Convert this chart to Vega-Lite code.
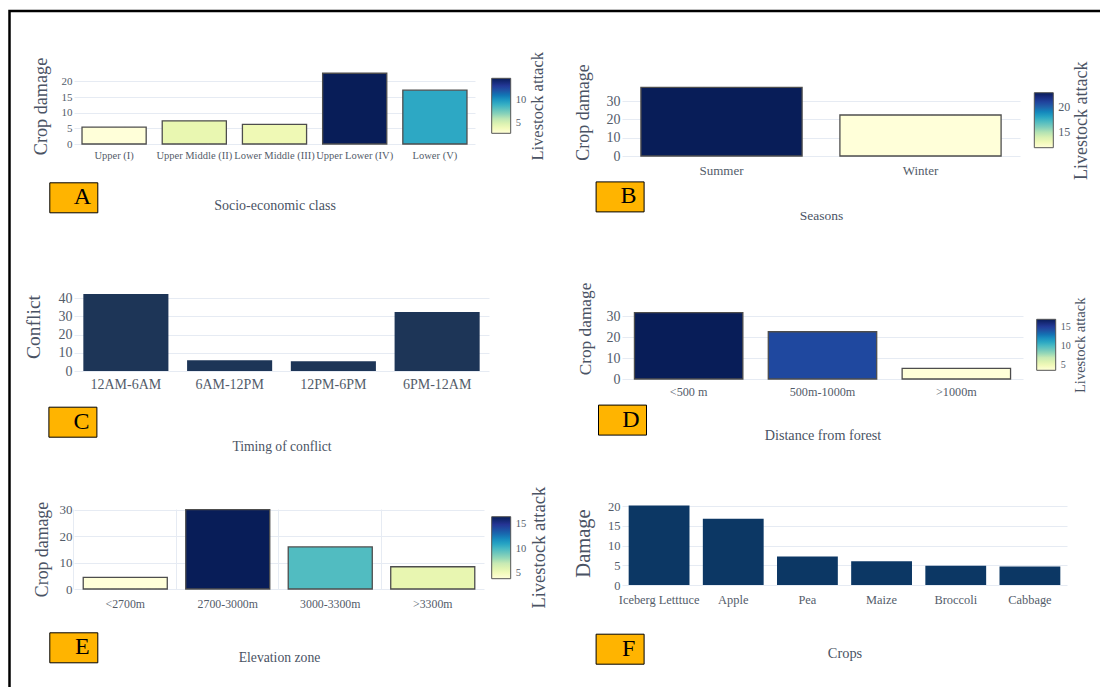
{
  "$schema": "https://vega.github.io/schema/vega-lite/v6.json",
  "background": "white",
  "padding": {"left": 8, "top": 9, "right": 0, "bottom": 0},
  "config": {
    "font": "Liberation Serif",
    "view": {"stroke": null},
    "axis": {"domain": false, "ticks": false, "labelColor": "#535c6a", "titleColor": "#4a5364", "titleFontWeight": "normal", "gridColor": "#e6ebf3", "gridWidth": 1, "labelFont": "Liberation Serif", "titleFont": "Liberation Serif"},
    "axisX": {"grid": false, "labelAngle": 0},
    "axisY": {"grid": true},
    "legend": {"labelFont": "Liberation Serif", "titleFont": "Liberation Serif"}
  },
  "spacing": 548,
  "bounds": "flush",
  "resolve": {"scale": {"color": "independent", "strokeDash": "independent", "opacity": "independent"}, "legend": {"color": "independent", "strokeDash": "independent", "opacity": "independent"}},
  "hconcat": [
    {
      "vconcat": [
        {
          "width": 401, "height": 76,
          "data": {"values": [
            {"cls": "Upper (I)", "crop": 5.4, "livestock": 2.9, "panel": "A"},
            {"cls": "Upper Middle (II)", "crop": 7.4, "livestock": 4.5, "panel": "A"},
            {"cls": "Lower Middle (III)", "crop": 6.3, "livestock": 4.2, "panel": "A"},
            {"cls": "Upper Lower (IV)", "crop": 22.6, "livestock": 14.6, "panel": "A"},
            {"cls": "Lower (V)", "crop": 17.2, "livestock": 9.3, "panel": "A"}
          ]},
          "mark": {"type": "bar", "stroke": "#4d4d4d", "strokeWidth": 1.3},
          "encoding": {
            "x": {"field": "cls", "type": "nominal", "sort": null, "scale": {"paddingInner": 0.2, "paddingOuter": 0.1}, "axis": {"title": "Socio-economic class", "labelFontSize": 10.5, "labelPadding": 6.5, "titleFontSize": 14, "titlePadding": 37}},
            "y": {"field": "crop", "type": "quantitative", "scale": {"domain": [0, 24.28], "nice": false, "zero": true}, "axis": {"title": "Crop damage", "values": [0, 5, 10, 15, 20], "labelFontSize": 11, "labelPadding": 2, "titleFontSize": 18.2, "titlePadding": 11}},
            "color": {"field": "livestock", "type": "quantitative", "scale": {"domain": [2.9, 14.6], "zero": false, "nice": false, "range": ["#ffffd9", "#edf8b1", "#c7e9b4", "#7fcdbb", "#41b6c4", "#1d91c0", "#225ea8", "#253494", "#081d58"]},
              "legend": {"title": "Livestock attack", "orient": "none", "legendX": 417.7, "legendY": 10.3, "direction": "vertical", "gradientLength": 55, "gradientThickness": 19, "gradientStrokeColor": "#555", "gradientStrokeWidth": 1, "values": [5, 10], "labelFontSize": 10.5, "labelColor": "#535c6a", "labelOffset": 5, "titleOrient": "right", "titleAnchor": "middle", "titleFontSize": 16.5, "titleFontWeight": "normal", "titleColor": "#4a5364", "titlePadding": 3, "padding": 0,
                "encode": {"title": {"update": {"angle": {"value": 270}, "baseline": {"value": "top"}}}}}},
            "strokeDash": {"field": "panel", "type": "nominal", "scale": {"range": [[1, 0]]},
              "legend": {"title": null, "orient": "none", "legendX": -24.7, "legendY": 114.3, "symbolType": "M-2,0L2,0", "symbolSize": 441, "symbolOffset": 9, "symbolStrokeWidth": 0, "symbolOpacity": 0, "labelFontSize": 24, "labelColor": "#000", "labelAlign": "center", "labelOffset": -3, "fillColor": "#FFB400", "strokeColor": "#000", "padding": 3,
                "encode": {"legend": {"update": {"strokeWidth": {"value": 2}}}}}},
            "opacity": {"field": "cls", "type": "nominal", "scale": {"range": [1, 1]},
              "legend": {"title": null, "orient": "none", "legendX": -64.5, "legendY": -57, "values": ["Upper (I)"], "symbolType": "square", "symbolSize": 1210000, "symbolStrokeWidth": 0, "symbolOpacity": 0, "symbolFillColor": "transparent", "symbolStrokeColor": "transparent", "labelExpr": "''", "labelFontSize": 1, "strokeColor": "#000", "padding": 0,
                "encode": {"symbols": {"update": {"opacity": {"value": 0}}}, "legend": {"update": {"strokeWidth": {"value": 2.5}}}}}}
          }
        },
        {
          "width": 415, "height": 89,
          "data": {"values": [
            {"time": "12AM-6AM", "conflict": 42.2, "panel": "C"},
            {"time": "6AM-12PM", "conflict": 5.9, "panel": "C"},
            {"time": "12PM-6PM", "conflict": 5.3, "panel": "C"},
            {"time": "6PM-12AM", "conflict": 32.3, "panel": "C"}
          ]},
          "mark": {"type": "bar", "color": "#1d3557"},
          "encoding": {
            "x": {"field": "time", "type": "nominal", "sort": null, "scale": {"paddingInner": 0.18, "paddingOuter": 0.09}, "axis": {"title": "Timing of conflict", "labelFontSize": 14, "labelPadding": 6.5, "titleFontSize": 13.6, "titlePadding": 47.5}},
            "y": {"field": "conflict", "type": "quantitative", "scale": {"domain": [0, 48.8], "nice": false, "zero": true}, "axis": {"title": "Conflict", "values": [0, 10, 20, 30, 40], "labelFontSize": 14, "labelPadding": 2, "titleFontSize": 19.5, "titlePadding": 15}},
            "strokeDash": {"field": "panel", "type": "nominal", "scale": {"range": [[1, 0]]},
              "legend": {"title": null, "orient": "none", "legendX": -25.6, "legendY": 124.7, "symbolType": "M-2,0L2,0", "symbolSize": 441, "symbolOffset": 9, "symbolStrokeWidth": 0, "symbolOpacity": 0, "labelFontSize": 24, "labelColor": "#000", "labelAlign": "center", "labelOffset": -3, "fillColor": "#FFB400", "strokeColor": "#000", "padding": 3,
                "encode": {"legend": {"update": {"strokeWidth": {"value": 2}}}}}}
          }
        },
        {
          "width": 410, "height": 80,
          "data": {"values": [
            {"zone": "<2700m", "crop": 4.4, "livestock": 3.8, "panel": "E"},
            {"zone": "2700-3000m", "crop": 30.0, "livestock": 16.6, "panel": "E"},
            {"zone": "3000-3300m", "crop": 15.9, "livestock": 9.8, "panel": "E"},
            {"zone": ">3300m", "crop": 8.4, "livestock": 5.6, "panel": "E"}
          ]},
          "mark": {"type": "bar", "stroke": "#4d4d4d", "strokeWidth": 1.3},
          "encoding": {
            "x": {"field": "zone", "type": "nominal", "sort": null, "scale": {"paddingInner": 0.18, "paddingOuter": 0.09}, "axis": {"title": "Elevation zone", "grid": true, "bandPosition": -0.11, "labelFontSize": 11.8, "labelPadding": 9, "titleFontSize": 13.7, "titlePadding": 40.7}},
            "y": {"field": "crop", "type": "quantitative", "scale": {"domain": [0, 30.2], "nice": false, "zero": true}, "axis": {"title": "Crop damage", "values": [0, 10, 20, 30], "labelFontSize": 13, "labelPadding": 2, "titleFontSize": 17.8, "titlePadding": 8}},
            "color": {"field": "livestock", "type": "quantitative", "scale": {"domain": [3.8, 16.6], "zero": false, "nice": false, "range": ["#ffffd9", "#edf8b1", "#c7e9b4", "#7fcdbb", "#41b6c4", "#1d91c0", "#225ea8", "#253494", "#081d58"]},
              "legend": {"title": "Livestock attack", "orient": "none", "legendX": 417.7, "legendY": 7.7, "direction": "vertical", "gradientLength": 62, "gradientThickness": 19, "gradientStrokeColor": "#555", "gradientStrokeWidth": 1, "values": [5, 10, 15], "labelFontSize": 10.5, "labelColor": "#535c6a", "labelOffset": 5, "titleOrient": "right", "titleAnchor": "middle", "titleFontSize": 18.5, "titleFontWeight": "normal", "titleColor": "#4a5364", "titlePadding": 3, "padding": 0,
                "encode": {"title": {"update": {"angle": {"value": 270}, "baseline": {"value": "top"}}}}}},
            "strokeDash": {"field": "panel", "type": "nominal", "scale": {"range": [[1, 0]]},
              "legend": {"title": null, "orient": "none", "legendX": -24.7, "legendY": 123.3, "symbolType": "M-2,0L2,0", "symbolSize": 441, "symbolOffset": 9, "symbolStrokeWidth": 0, "symbolOpacity": 0, "labelFontSize": 24, "labelColor": "#000", "labelAlign": "center", "labelOffset": -3, "fillColor": "#FFB400", "strokeColor": "#000", "padding": 3,
                "encode": {"legend": {"update": {"strokeWidth": {"value": 2}}}}}}
          }
        }
      ],
      "spacing": 138,
      "bounds": "flush",
      "resolve": {"scale": {"color": "independent", "strokeDash": "independent", "opacity": "independent"}, "legend": {"color": "independent", "strokeDash": "independent", "opacity": "independent"}}
    },
    {
      "vconcat": [
        {
          "width": 398, "height": 88,
          "data": {"values": [
            {"season": "Summer", "crop": 37.5, "livestock": 22.8, "panel": "B"},
            {"season": "Winter", "crop": 22.4, "livestock": 11.9, "panel": "B"}
          ]},
          "mark": {"type": "bar", "stroke": "#4d4d4d", "strokeWidth": 1.3},
          "encoding": {
            "x": {"field": "season", "type": "nominal", "sort": null, "scale": {"paddingInner": 0.19, "paddingOuter": 0.095}, "axis": {"title": "Seasons", "labelFontSize": 13, "labelPadding": 8, "titleFontSize": 13.5, "titlePadding": 31}},
            "y": {"field": "crop", "type": "quantitative", "scale": {"domain": [0, 48.1], "nice": false, "zero": true}, "axis": {"title": "Crop damage", "values": [0, 10, 20, 30], "labelFontSize": 14, "labelPadding": 2, "titleFontSize": 18, "titlePadding": 14}},
            "color": {"field": "livestock", "type": "quantitative", "scale": {"domain": [11.9, 22.8], "zero": false, "nice": false, "range": ["#ffffd9", "#edf8b1", "#c7e9b4", "#7fcdbb", "#41b6c4", "#1d91c0", "#225ea8", "#253494", "#081d58"]},
              "legend": {"title": "Livestock attack", "orient": "none", "legendX": 412.3, "legendY": 24.7, "direction": "vertical", "gradientLength": 55, "gradientThickness": 19, "gradientStrokeColor": "#555", "gradientStrokeWidth": 1, "values": [15, 20], "labelFontSize": 12, "labelColor": "#535c6a", "labelOffset": 5, "titleOrient": "right", "titleAnchor": "middle", "titleFontSize": 18, "titleFontWeight": "normal", "titleColor": "#4a5364", "titlePadding": 3, "padding": 0,
                "encode": {"title": {"update": {"angle": {"value": 270}, "baseline": {"value": "top"}}}}}},
            "strokeDash": {"field": "panel", "type": "nominal", "scale": {"range": [[1, 0]]},
              "legend": {"title": null, "orient": "none", "legendX": -26.4, "legendY": 113.4, "symbolType": "M-2,0L2,0", "symbolSize": 441, "symbolOffset": 9, "symbolStrokeWidth": 0, "symbolOpacity": 0, "labelFontSize": 24, "labelColor": "#000", "labelAlign": "center", "labelOffset": -3, "fillColor": "#FFB400", "strokeColor": "#000", "padding": 3,
                "encode": {"legend": {"update": {"strokeWidth": {"value": 2}}}}}}
          }
        },
        {
          "width": 401, "height": 101,
          "data": {"values": [
            {"dist": "<500 m", "crop": 31.6, "livestock": 16.9, "panel": "D"},
            {"dist": "500m-1000m", "crop": 22.5, "livestock": 14.5, "panel": "D"},
            {"dist": ">1000m", "crop": 5.1, "livestock": 3.7, "panel": "D"}
          ]},
          "mark": {"type": "bar", "stroke": "#4d4d4d", "strokeWidth": 1.3},
          "encoding": {
            "x": {"field": "dist", "type": "nominal", "sort": null, "scale": {"paddingInner": 0.19, "paddingOuter": 0.093}, "axis": {"title": "Distance from forest", "labelFontSize": 12.2, "labelPadding": 6, "titleFontSize": 14.2, "titlePadding": 31.5}},
            "y": {"field": "crop", "type": "quantitative", "scale": {"domain": [0, 48.1], "nice": false, "zero": true}, "axis": {"title": "Crop damage", "values": [0, 10, 20, 30], "labelFontSize": 14, "labelPadding": 2, "titleFontSize": 17.3, "titlePadding": 12}},
            "color": {"field": "livestock", "type": "quantitative", "scale": {"domain": [3.7, 16.9], "zero": false, "nice": false, "range": ["#ffffd9", "#edf8b1", "#c7e9b4", "#7fcdbb", "#41b6c4", "#1d91c0", "#225ea8", "#253494", "#081d58"]},
              "legend": {"title": "Livestock attack", "orient": "none", "legendX": 414.7, "legendY": 41.3, "direction": "vertical", "gradientLength": 51, "gradientThickness": 19, "gradientStrokeColor": "#555", "gradientStrokeWidth": 1, "values": [5, 10, 15], "labelFontSize": 10, "labelColor": "#535c6a", "labelOffset": 5, "titleOrient": "right", "titleAnchor": "middle", "titleFontSize": 14.5, "titleFontWeight": "normal", "titleColor": "#4a5364", "titlePadding": 3, "padding": 0,
                "encode": {"title": {"update": {"angle": {"value": 270}, "baseline": {"value": "top"}}}}}},
            "strokeDash": {"field": "panel", "type": "nominal", "scale": {"range": [[1, 0]]},
              "legend": {"title": null, "orient": "none", "legendX": -24, "legendY": 126.6, "symbolType": "M-2,0L2,0", "symbolSize": 441, "symbolOffset": 9, "symbolStrokeWidth": 0, "symbolOpacity": 0, "labelFontSize": 24, "labelColor": "#000", "labelAlign": "center", "labelOffset": -3, "fillColor": "#FFB400", "strokeColor": "#000", "padding": 3,
                "encode": {"legend": {"update": {"strokeWidth": {"value": 2}}}}}}
          }
        },
        {
          "width": 445, "height": 84,
          "data": {"values": [
            {"crop": "Iceberg Letttuce", "damage": 20.1, "panel": "F"},
            {"crop": "Apple", "damage": 16.8, "panel": "F"},
            {"crop": "Pea", "damage": 7.2, "panel": "F"},
            {"crop": "Maize", "damage": 6.0, "panel": "F"},
            {"crop": "Broccoli", "damage": 4.9, "panel": "F"},
            {"crop": "Cabbage", "damage": 4.7, "panel": "F"}
          ]},
          "mark": {"type": "bar", "color": "#0c3764"},
          "encoding": {
            "x": {"field": "crop", "type": "nominal", "sort": null, "scale": {"paddingInner": 0.18, "paddingOuter": 0.09}, "axis": {"title": "Crops", "labelFontSize": 12.4, "labelPadding": 8.5, "titleFontSize": 14.4, "titlePadding": 40.5}},
            "y": {"field": "damage", "type": "quantitative", "scale": {"domain": [0, 21.27], "nice": false, "zero": true}, "axis": {"title": "Damage", "values": [0, 5, 10, 15, 20], "labelFontSize": 12.5, "labelPadding": 2, "titleFontSize": 20.5, "titlePadding": 14}},
            "strokeDash": {"field": "panel", "type": "nominal", "scale": {"range": [[1, 0]]},
              "legend": {"title": null, "orient": "none", "legendX": -26.4, "legendY": 132.7, "symbolType": "M-2,0L2,0", "symbolSize": 441, "symbolOffset": 9, "symbolStrokeWidth": 0, "symbolOpacity": 0, "labelFontSize": 24, "labelColor": "#000", "labelAlign": "center", "labelOffset": -3, "fillColor": "#FFB400", "strokeColor": "#000", "padding": 3,
                "encode": {"legend": {"update": {"strokeWidth": {"value": 2}}}}}}
          }
        }
      ],
      "spacing": 122,
      "bounds": "flush",
      "resolve": {"scale": {"color": "independent", "strokeDash": "independent"}, "legend": {"color": "independent", "strokeDash": "independent"}}
    }
  ]
}
